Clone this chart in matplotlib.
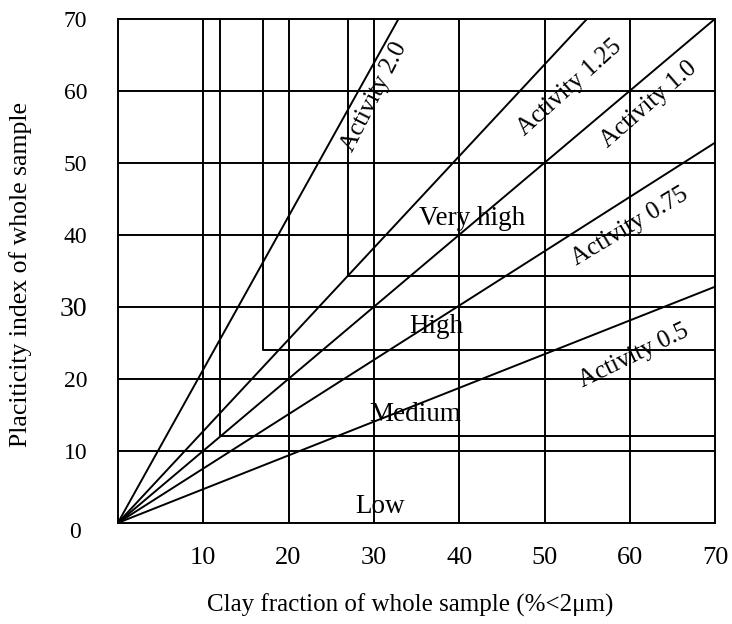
import matplotlib
matplotlib.use("Agg")
from matplotlib import pyplot as plt
import numpy as np

plt.rcParams['font.family'] = ['Liberation Serif', 'DejaVu Serif']

# activity lines from origin, end points
activity_names = ["Activity 2.0", "Activity 1.25", "Activity 1.0", "Activity 0.75", "Activity 0.5"]
activity_end_x = [32.9, 55.0, 70.0, 70.0, 70.0]
activity_end_y = [70.0, 70.0, 70.0, 52.8, 32.8]

# label placement for activity lines (x, y, angle)
activity_lbl_x = [30.0, 52.9, 62.2, 60.0, 60.5]
activity_lbl_y = [59.2, 60.4, 58.1, 41.2, 23.2]
activity_lbl_rot = [63, 42, 41, 31, 26]

# zone boundaries (corner x, corner y)
zone_x = [12, 17, 27]
zone_y = [12, 24, 34.3]

zone_names = ["Low", "Medium", "High", "Very high"]
zone_lbl_x = [30.7, 34.8, 37.3, 41.5]
zone_lbl_y = [2.3, 15.0, 27.3, 42.3]

grid_vals = [10, 20, 30, 40, 50, 60]
x_ticks = [10, 20, 30, 40, 50, 60, 70]
y_ticks = [10, 20, 30, 40, 50, 60, 70]

fig = plt.figure(figsize=(7.32, 6.24), dpi=100)
ax = fig.add_axes([0.161, 0.162, 0.816, 0.808])
ax.set_xlim(0, 70)
ax.set_ylim(0, 70)

lw = 1.4
for g in grid_vals:
    ax.axvline(g, color='k', lw=lw)
    ax.axhline(g, color='k', lw=lw)

for zx, zy in zip(zone_x, zone_y):
    ax.plot([zx, zx, 70], [70, zy, zy], color='k', lw=lw)

for ex, ey in zip(activity_end_x, activity_end_y):
    ax.plot([0, ex], [0, ey], color='k', lw=lw)

for name, lx, ly, rot in zip(activity_names, activity_lbl_x, activity_lbl_y, activity_lbl_rot):
    ax.text(lx, ly, name, rotation=rot, ha='center', va='center',
            rotation_mode='anchor', fontsize=18)

for name, lx, ly in zip(zone_names, zone_lbl_x, zone_lbl_y):
    ax.text(lx, ly, name, ha='center', va='center', fontsize=19.5)

for sp in ax.spines.values():
    sp.set_linewidth(lw)

ax.set_xticks(x_ticks)
ax.set_yticks(y_ticks)
ax.tick_params(length=0)
ax.tick_params(axis='x', pad=17, labelsize=19)
ax.tick_params(axis='y', pad=22, labelsize=17)
for t in ax.get_yticklabels():
    if t.get_text() == "30":
        t.set_fontsize(20)
ax.text(-5.0, -1.3, "0", ha='center', va='center', fontsize=17)

fig.text(0.028, 0.56, "Placiticity index of whole sample", rotation=90,
         ha='center', va='center', fontsize=18.5)
fig.text(0.56, 0.03, "Clay fraction of whole sample (%<2\u03bcm)",
         ha='center', va='center', fontsize=18)

fig.savefig("out.png", dpi=100)
